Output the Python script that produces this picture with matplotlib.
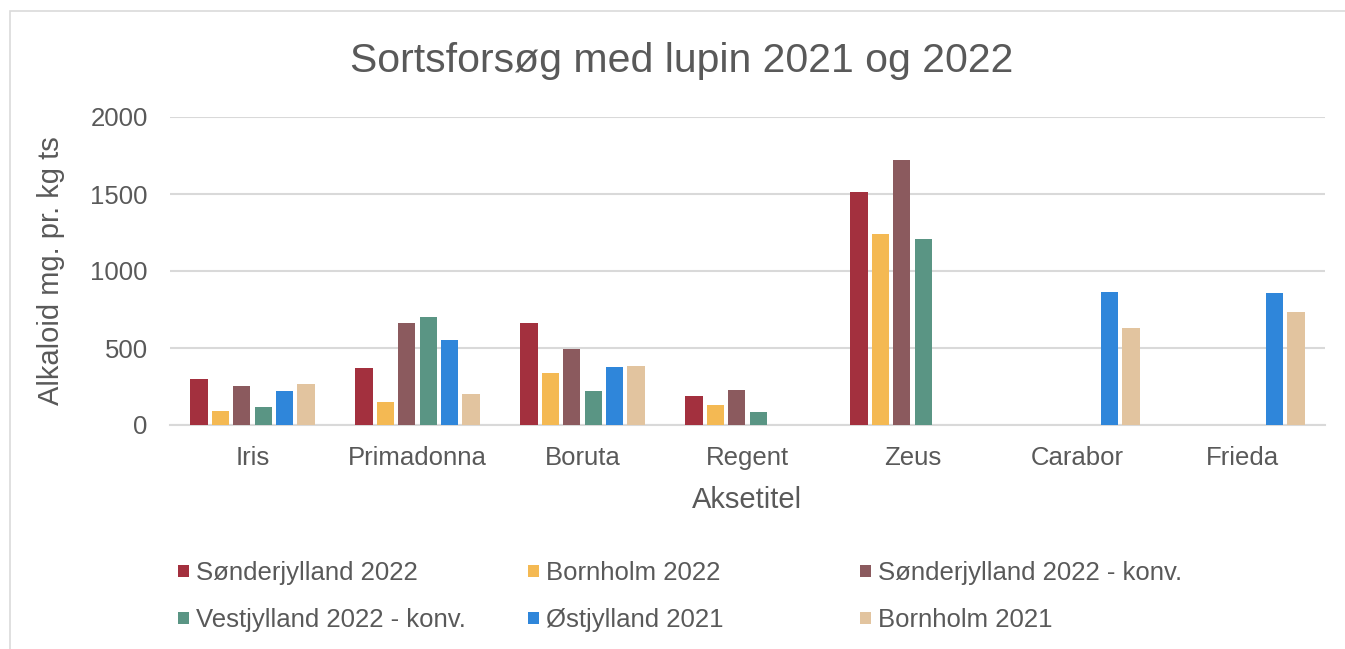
import numpy as np
import matplotlib
matplotlib.use("Agg")
import matplotlib.pyplot as plt
from matplotlib.patches import Patch, Rectangle

# Data (NaN = no bar)
varieties = ["Iris", "Primadonna", "Boruta", "Regent", "Zeus", "Carabor", "Frieda"]
sonderjylland_2022 = [300, 370, 660, 190, 1510, np.nan, np.nan]
bornholm_2022 = [90, 150, 340, 130, 1240, np.nan, np.nan]
sonderjylland_2022_konv = [255, 660, 495, 230, 1720, np.nan, np.nan]
vestjylland_2022_konv = [120, 700, 220, 85, 1210, np.nan, np.nan]
ostjylland_2021 = [220, 555, 375, np.nan, np.nan, 865, 860]
bornholm_2021 = [265, 200, 385, np.nan, np.nan, 630, 735]

series_names = ["Sønderjylland 2022", "Bornholm 2022", "Sønderjylland 2022 - konv.",
                "Vestjylland 2022 - konv.", "Østjylland 2021", "Bornholm 2021"]
series_values = [sonderjylland_2022, bornholm_2022, sonderjylland_2022_konv,
                 vestjylland_2022_konv, ostjylland_2021, bornholm_2021]
colors = ["#A3303E", "#F4B953", "#8B5A5E", "#5A9584", "#2F86DA", "#E2C49F"]

text_color = "#595959"
grid_color = "#D9D9D9"

plt.rcParams['font.family'] = ['Liberation Sans', 'DejaVu Sans']

fig = plt.figure(figsize=(13.45, 6.49), dpi=100)
# light chart-area border
fig.patches.append(Rectangle((10 / 1345, -0.1), 1.1, 1 - 11 / 649 + 0.1,
                             transform=fig.transFigure, fill=False,
                             edgecolor="#DADADA", linewidth=1.2))

ax = fig.add_axes([170 / 1345, 1 - 425 / 649, 1155 / 1345, 308 / 649])

x = np.arange(len(varieties))
slot = 0.13
width = 0.105
for i, (vals, c) in enumerate(zip(series_values, colors)):
    ax.bar(x + (i - 2.5) * slot, vals, width=width, color=c, zorder=3)

ax.set_xlim(-0.5, len(varieties) - 0.5)
ax.set_ylim(0, 2000)
ax.set_yticks([0, 500, 1000, 1500, 2000])
ax.set_xticks(x)
ax.set_xticklabels(varieties)
ax.grid(axis='y', color=grid_color, linewidth=1.5, zorder=0)
for s in ["top", "right", "left"]:
    ax.spines[s].set_visible(False)
ax.spines["bottom"].set_color(grid_color)
ax.spines["bottom"].set_linewidth(1.5)
ax.tick_params(axis='both', length=0, labelsize=18.5, labelcolor=text_color)
ax.tick_params(axis='y', pad=16)
ax.tick_params(axis='x', pad=15)

ax.set_xlabel("Aksetitel", fontsize=21, color=text_color, labelpad=12)
ax.set_ylabel("Alkaloid mg. pr. kg ts", fontsize=21, color=text_color)
ax.yaxis.set_label_coords(-0.091, 0.5)

fig.text(682 / 1345, 1 - 61 / 649, "Sortsforsøg med lupin 2021 og 2022",
         ha='center', va='center', fontsize=29.5, color=text_color)

# legend: three columns placed like the original
col_x = [178, 528, 860]
cols = [[0, 3], [1, 4], [2, 5]]
for cx, idx in zip(col_x, cols):
    handles = [Patch(facecolor=colors[k], edgecolor='none') for k in idx]
    labels = [series_names[k] for k in idx]
    leg = fig.legend(handles, labels, loc='upper left',
                     bbox_to_anchor=(cx / 1345, 1 - 561 / 649),
                     frameon=False, fontsize=18.5, labelcolor=text_color,
                     handlelength=0.42, handleheight=0.35, handletextpad=0.3,
                     labelspacing=0.9, borderpad=0, borderaxespad=0)

fig.savefig("out.png", dpi=100)
